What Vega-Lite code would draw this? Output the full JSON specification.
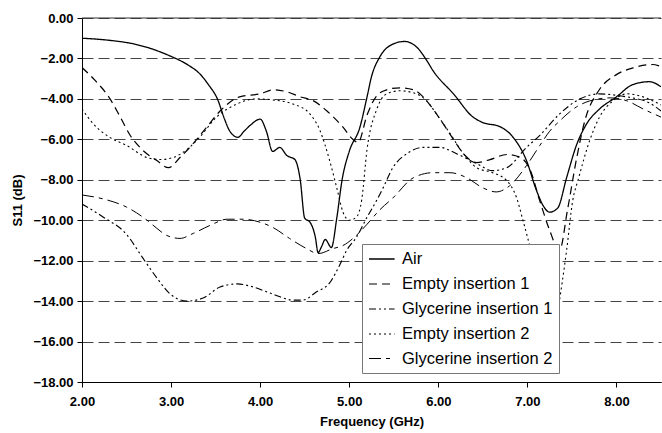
{
  "$schema": "https://vega.github.io/schema/vega-lite/v6.json",
  "autosize": {"type": "none"},
  "width": 579,
  "height": 364,
  "padding": {"left": 82, "top": 18, "right": 1, "bottom": 51},
  "background": "white",
  "config": {
    "view": {"stroke": null},
    "font": "Liberation Sans",
    "axis": {"labelFont": "Liberation Sans", "titleFont": "Liberation Sans", "labelFontSize": 13, "labelFontWeight": "bold", "titleFontSize": 13, "titleFontWeight": "bold", "labelColor": "black", "titleColor": "black", "domainColor": "black", "tickColor": "black", "tickSize": 5}
  },
  "layer": [
    {
      "data": {"values": [{"y": 0}]},
      "mark": {"type": "rule", "color": "#333", "strokeWidth": 1},
      "encoding": {"y": {"field": "y", "type": "quantitative", "scale": {"domain": [-18, 0]}}}
    },
    {
      "data": {"values": [
        {"series": "Air", "f": 2.0, "s": -1.0}, {"series": "Air", "f": 2.3, "s": -1.1}, {"series": "Air", "f": 2.6, "s": -1.3}, {"series": "Air", "f": 2.8, "s": -1.55}, {"series": "Air", "f": 3.0, "s": -1.9}, {"series": "Air", "f": 3.1, "s": -2.1}, {"series": "Air", "f": 3.2, "s": -2.35}, {"series": "Air", "f": 3.32, "s": -2.75}, {"series": "Air", "f": 3.42, "s": -3.3}, {"series": "Air", "f": 3.52, "s": -4.0}, {"series": "Air", "f": 3.6, "s": -5.0}, {"series": "Air", "f": 3.66, "s": -5.6}, {"series": "Air", "f": 3.75, "s": -5.9}, {"series": "Air", "f": 3.82, "s": -5.6}, {"series": "Air", "f": 3.89, "s": -5.3}, {"series": "Air", "f": 4.0, "s": -5.0}, {"series": "Air", "f": 4.07, "s": -5.6}, {"series": "Air", "f": 4.14, "s": -6.6}, {"series": "Air", "f": 4.22, "s": -6.4}, {"series": "Air", "f": 4.3, "s": -6.8}, {"series": "Air", "f": 4.39, "s": -7.0}, {"series": "Air", "f": 4.45, "s": -8.0}, {"series": "Air", "f": 4.5, "s": -9.9}, {"series": "Air", "f": 4.56, "s": -10.1}, {"series": "Air", "f": 4.62, "s": -10.85}, {"series": "Air", "f": 4.65, "s": -11.6}, {"series": "Air", "f": 4.69, "s": -11.3}, {"series": "Air", "f": 4.73, "s": -10.95}, {"series": "Air", "f": 4.8, "s": -11.35}, {"series": "Air", "f": 4.86, "s": -9.9}, {"series": "Air", "f": 4.92, "s": -8.0}, {"series": "Air", "f": 5.0, "s": -6.6}, {"series": "Air", "f": 5.12, "s": -5.4}, {"series": "Air", "f": 5.2, "s": -3.9}, {"series": "Air", "f": 5.25, "s": -2.9}, {"series": "Air", "f": 5.34, "s": -1.95}, {"series": "Air", "f": 5.46, "s": -1.36}, {"series": "Air", "f": 5.62, "s": -1.16}, {"series": "Air", "f": 5.76, "s": -1.45}, {"series": "Air", "f": 5.87, "s": -2.1}, {"series": "Air", "f": 5.94, "s": -2.6}, {"series": "Air", "f": 6.17, "s": -3.75}, {"series": "Air", "f": 6.39, "s": -4.9}, {"series": "Air", "f": 6.5, "s": -5.17}, {"series": "Air", "f": 6.69, "s": -5.37}, {"series": "Air", "f": 6.84, "s": -5.9}, {"series": "Air", "f": 6.99, "s": -7.05}, {"series": "Air", "f": 7.1, "s": -8.5}, {"series": "Air", "f": 7.18, "s": -9.3}, {"series": "Air", "f": 7.25, "s": -9.6}, {"series": "Air", "f": 7.34, "s": -9.4}, {"series": "Air", "f": 7.44, "s": -7.9}, {"series": "Air", "f": 7.55, "s": -6.3}, {"series": "Air", "f": 7.67, "s": -5.2}, {"series": "Air", "f": 7.81, "s": -4.5}, {"series": "Air", "f": 8.0, "s": -3.9}, {"series": "Air", "f": 8.18, "s": -3.3}, {"series": "Air", "f": 8.37, "s": -3.15}, {"series": "Air", "f": 8.5, "s": -3.4},
        {"series": "Empty insertion 1", "f": 2.0, "s": -2.45}, {"series": "Empty insertion 1", "f": 2.15, "s": -3.1}, {"series": "Empty insertion 1", "f": 2.3, "s": -3.9}, {"series": "Empty insertion 1", "f": 2.43, "s": -4.9}, {"series": "Empty insertion 1", "f": 2.54, "s": -5.8}, {"series": "Empty insertion 1", "f": 2.65, "s": -6.4}, {"series": "Empty insertion 1", "f": 2.84, "s": -7.05}, {"series": "Empty insertion 1", "f": 2.97, "s": -7.4}, {"series": "Empty insertion 1", "f": 3.1, "s": -6.9}, {"series": "Empty insertion 1", "f": 3.25, "s": -6.2}, {"series": "Empty insertion 1", "f": 3.4, "s": -5.4}, {"series": "Empty insertion 1", "f": 3.55, "s": -4.6}, {"series": "Empty insertion 1", "f": 3.77, "s": -3.9}, {"series": "Empty insertion 1", "f": 4.0, "s": -3.75}, {"series": "Empty insertion 1", "f": 4.15, "s": -3.55}, {"series": "Empty insertion 1", "f": 4.3, "s": -3.65}, {"series": "Empty insertion 1", "f": 4.45, "s": -3.9}, {"series": "Empty insertion 1", "f": 4.6, "s": -4.1}, {"series": "Empty insertion 1", "f": 4.75, "s": -4.6}, {"series": "Empty insertion 1", "f": 4.93, "s": -5.4}, {"series": "Empty insertion 1", "f": 5.04, "s": -6.0}, {"series": "Empty insertion 1", "f": 5.1, "s": -6.15}, {"series": "Empty insertion 1", "f": 5.2, "s": -4.8}, {"series": "Empty insertion 1", "f": 5.3, "s": -3.9}, {"series": "Empty insertion 1", "f": 5.42, "s": -3.55}, {"series": "Empty insertion 1", "f": 5.57, "s": -3.45}, {"series": "Empty insertion 1", "f": 5.72, "s": -3.55}, {"series": "Empty insertion 1", "f": 5.83, "s": -3.9}, {"series": "Empty insertion 1", "f": 5.94, "s": -4.5}, {"series": "Empty insertion 1", "f": 6.05, "s": -5.2}, {"series": "Empty insertion 1", "f": 6.17, "s": -6.0}, {"series": "Empty insertion 1", "f": 6.28, "s": -6.7}, {"series": "Empty insertion 1", "f": 6.43, "s": -7.15}, {"series": "Empty insertion 1", "f": 6.58, "s": -7.0}, {"series": "Empty insertion 1", "f": 6.77, "s": -6.75}, {"series": "Empty insertion 1", "f": 6.92, "s": -6.9}, {"series": "Empty insertion 1", "f": 7.03, "s": -7.5}, {"series": "Empty insertion 1", "f": 7.14, "s": -9.05}, {"series": "Empty insertion 1", "f": 7.25, "s": -10.5}, {"series": "Empty insertion 1", "f": 7.36, "s": -11.5}, {"series": "Empty insertion 1", "f": 7.45, "s": -9.5}, {"series": "Empty insertion 1", "f": 7.55, "s": -7.0}, {"series": "Empty insertion 1", "f": 7.65, "s": -5.0}, {"series": "Empty insertion 1", "f": 7.8, "s": -3.6}, {"series": "Empty insertion 1", "f": 8.0, "s": -2.8}, {"series": "Empty insertion 1", "f": 8.2, "s": -2.45}, {"series": "Empty insertion 1", "f": 8.4, "s": -2.3}, {"series": "Empty insertion 1", "f": 8.5, "s": -2.4},
        {"series": "Glycerine insertion 1", "f": 2.0, "s": -9.2}, {"series": "Glycerine insertion 1", "f": 2.24, "s": -9.85}, {"series": "Glycerine insertion 1", "f": 2.5, "s": -10.7}, {"series": "Glycerine insertion 1", "f": 2.68, "s": -11.85}, {"series": "Glycerine insertion 1", "f": 2.84, "s": -12.85}, {"series": "Glycerine insertion 1", "f": 2.99, "s": -13.65}, {"series": "Glycerine insertion 1", "f": 3.18, "s": -14.0}, {"series": "Glycerine insertion 1", "f": 3.36, "s": -13.85}, {"series": "Glycerine insertion 1", "f": 3.55, "s": -13.3}, {"series": "Glycerine insertion 1", "f": 3.74, "s": -13.15}, {"series": "Glycerine insertion 1", "f": 3.92, "s": -13.3}, {"series": "Glycerine insertion 1", "f": 4.14, "s": -13.65}, {"series": "Glycerine insertion 1", "f": 4.37, "s": -13.95}, {"series": "Glycerine insertion 1", "f": 4.48, "s": -13.95}, {"series": "Glycerine insertion 1", "f": 4.63, "s": -13.55}, {"series": "Glycerine insertion 1", "f": 4.78, "s": -13.1}, {"series": "Glycerine insertion 1", "f": 4.9, "s": -12.15}, {"series": "Glycerine insertion 1", "f": 4.97, "s": -11.5}, {"series": "Glycerine insertion 1", "f": 5.08, "s": -10.85}, {"series": "Glycerine insertion 1", "f": 5.2, "s": -9.85}, {"series": "Glycerine insertion 1", "f": 5.31, "s": -9.0}, {"series": "Glycerine insertion 1", "f": 5.38, "s": -8.4}, {"series": "Glycerine insertion 1", "f": 5.49, "s": -7.4}, {"series": "Glycerine insertion 1", "f": 5.65, "s": -6.7}, {"series": "Glycerine insertion 1", "f": 5.83, "s": -6.4}, {"series": "Glycerine insertion 1", "f": 6.02, "s": -6.4}, {"series": "Glycerine insertion 1", "f": 6.2, "s": -6.7}, {"series": "Glycerine insertion 1", "f": 6.43, "s": -7.2}, {"series": "Glycerine insertion 1", "f": 6.61, "s": -7.55}, {"series": "Glycerine insertion 1", "f": 6.77, "s": -7.4}, {"series": "Glycerine insertion 1", "f": 6.99, "s": -6.4}, {"series": "Glycerine insertion 1", "f": 7.14, "s": -5.8}, {"series": "Glycerine insertion 1", "f": 7.36, "s": -4.75}, {"series": "Glycerine insertion 1", "f": 7.59, "s": -4.0}, {"series": "Glycerine insertion 1", "f": 7.81, "s": -3.75}, {"series": "Glycerine insertion 1", "f": 8.04, "s": -3.85}, {"series": "Glycerine insertion 1", "f": 8.18, "s": -3.95}, {"series": "Glycerine insertion 1", "f": 8.37, "s": -4.2}, {"series": "Glycerine insertion 1", "f": 8.5, "s": -4.6},
        {"series": "Empty insertion 2", "f": 2.0, "s": -4.5}, {"series": "Empty insertion 2", "f": 2.12, "s": -5.2}, {"series": "Empty insertion 2", "f": 2.31, "s": -5.9}, {"series": "Empty insertion 2", "f": 2.5, "s": -6.3}, {"series": "Empty insertion 2", "f": 2.73, "s": -6.9}, {"series": "Empty insertion 2", "f": 2.88, "s": -7.0}, {"series": "Empty insertion 2", "f": 3.02, "s": -6.9}, {"series": "Empty insertion 2", "f": 3.18, "s": -6.5}, {"series": "Empty insertion 2", "f": 3.32, "s": -5.9}, {"series": "Empty insertion 2", "f": 3.51, "s": -4.9}, {"series": "Empty insertion 2", "f": 3.74, "s": -4.25}, {"series": "Empty insertion 2", "f": 3.96, "s": -4.0}, {"series": "Empty insertion 2", "f": 4.14, "s": -4.05}, {"series": "Empty insertion 2", "f": 4.37, "s": -4.25}, {"series": "Empty insertion 2", "f": 4.56, "s": -4.75}, {"series": "Empty insertion 2", "f": 4.67, "s": -5.55}, {"series": "Empty insertion 2", "f": 4.78, "s": -7.05}, {"series": "Empty insertion 2", "f": 4.86, "s": -8.4}, {"series": "Empty insertion 2", "f": 4.93, "s": -9.6}, {"series": "Empty insertion 2", "f": 5.0, "s": -10.0}, {"series": "Empty insertion 2", "f": 5.08, "s": -9.85}, {"series": "Empty insertion 2", "f": 5.14, "s": -9.0}, {"series": "Empty insertion 2", "f": 5.2, "s": -6.5}, {"series": "Empty insertion 2", "f": 5.31, "s": -4.5}, {"series": "Empty insertion 2", "f": 5.42, "s": -3.75}, {"series": "Empty insertion 2", "f": 5.57, "s": -3.6}, {"series": "Empty insertion 2", "f": 5.72, "s": -3.7}, {"series": "Empty insertion 2", "f": 5.87, "s": -4.1}, {"series": "Empty insertion 2", "f": 5.98, "s": -4.75}, {"series": "Empty insertion 2", "f": 6.13, "s": -5.7}, {"series": "Empty insertion 2", "f": 6.28, "s": -6.7}, {"series": "Empty insertion 2", "f": 6.43, "s": -7.4}, {"series": "Empty insertion 2", "f": 6.61, "s": -7.65}, {"series": "Empty insertion 2", "f": 6.77, "s": -8.05}, {"series": "Empty insertion 2", "f": 6.88, "s": -8.9}, {"series": "Empty insertion 2", "f": 6.95, "s": -10.0}, {"series": "Empty insertion 2", "f": 7.06, "s": -11.85}, {"series": "Empty insertion 2", "f": 7.14, "s": -13.3}, {"series": "Empty insertion 2", "f": 7.22, "s": -14.65}, {"series": "Empty insertion 2", "f": 7.28, "s": -15.9}, {"series": "Empty insertion 2", "f": 7.34, "s": -14.5}, {"series": "Empty insertion 2", "f": 7.44, "s": -11.5}, {"series": "Empty insertion 2", "f": 7.51, "s": -9.0}, {"series": "Empty insertion 2", "f": 7.57, "s": -8.0}, {"series": "Empty insertion 2", "f": 7.7, "s": -6.05}, {"series": "Empty insertion 2", "f": 7.81, "s": -4.9}, {"series": "Empty insertion 2", "f": 7.96, "s": -4.1}, {"series": "Empty insertion 2", "f": 8.12, "s": -3.75}, {"series": "Empty insertion 2", "f": 8.3, "s": -3.9}, {"series": "Empty insertion 2", "f": 8.5, "s": -4.3},
        {"series": "Glycerine insertion 2", "f": 2.0, "s": -8.75}, {"series": "Glycerine insertion 2", "f": 2.24, "s": -8.95}, {"series": "Glycerine insertion 2", "f": 2.5, "s": -9.35}, {"series": "Glycerine insertion 2", "f": 2.73, "s": -10.0}, {"series": "Glycerine insertion 2", "f": 2.84, "s": -10.4}, {"series": "Glycerine insertion 2", "f": 2.95, "s": -10.75}, {"series": "Glycerine insertion 2", "f": 3.1, "s": -10.9}, {"series": "Glycerine insertion 2", "f": 3.25, "s": -10.65}, {"series": "Glycerine insertion 2", "f": 3.44, "s": -10.25}, {"series": "Glycerine insertion 2", "f": 3.63, "s": -9.95}, {"series": "Glycerine insertion 2", "f": 3.81, "s": -9.95}, {"series": "Glycerine insertion 2", "f": 4.0, "s": -10.1}, {"series": "Glycerine insertion 2", "f": 4.14, "s": -10.35}, {"series": "Glycerine insertion 2", "f": 4.33, "s": -10.9}, {"series": "Glycerine insertion 2", "f": 4.52, "s": -11.4}, {"series": "Glycerine insertion 2", "f": 4.65, "s": -11.65}, {"series": "Glycerine insertion 2", "f": 4.82, "s": -11.4}, {"series": "Glycerine insertion 2", "f": 4.93, "s": -11.25}, {"series": "Glycerine insertion 2", "f": 5.08, "s": -10.75}, {"series": "Glycerine insertion 2", "f": 5.2, "s": -10.2}, {"series": "Glycerine insertion 2", "f": 5.34, "s": -9.5}, {"series": "Glycerine insertion 2", "f": 5.49, "s": -8.9}, {"series": "Glycerine insertion 2", "f": 5.72, "s": -7.9}, {"series": "Glycerine insertion 2", "f": 5.94, "s": -7.65}, {"series": "Glycerine insertion 2", "f": 6.13, "s": -7.65}, {"series": "Glycerine insertion 2", "f": 6.32, "s": -7.9}, {"series": "Glycerine insertion 2", "f": 6.5, "s": -8.4}, {"series": "Glycerine insertion 2", "f": 6.65, "s": -8.6}, {"series": "Glycerine insertion 2", "f": 6.8, "s": -8.3}, {"series": "Glycerine insertion 2", "f": 6.99, "s": -7.3}, {"series": "Glycerine insertion 2", "f": 7.14, "s": -6.3}, {"series": "Glycerine insertion 2", "f": 7.25, "s": -5.6}, {"series": "Glycerine insertion 2", "f": 7.36, "s": -5.1}, {"series": "Glycerine insertion 2", "f": 7.55, "s": -4.4}, {"series": "Glycerine insertion 2", "f": 7.7, "s": -4.1}, {"series": "Glycerine insertion 2", "f": 7.93, "s": -3.95}, {"series": "Glycerine insertion 2", "f": 8.12, "s": -4.1}, {"series": "Glycerine insertion 2", "f": 8.3, "s": -4.5}, {"series": "Glycerine insertion 2", "f": 8.5, "s": -4.9}
      ]},
      "mark": {"type": "line", "color": "black", "interpolate": "monotone", "clip": true},
      "encoding": {
        "x": {"field": "f", "type": "quantitative", "title": "Frequency (GHz)", "scale": {"domain": [2, 8.5], "nice": false, "zero": false}, "axis": {"values": [2, 3, 4, 5, 6, 7, 8], "format": ".2f", "grid": false, "labelPadding": 8, "titlePadding": 7, "labelFlush": false}},
        "y": {"field": "s", "type": "quantitative", "title": "S11 (dB)", "scale": {"domain": [-18, 0], "nice": false}, "axis": {"values": [-18, -16, -14, -12, -10, -8, -6, -4, -2, 0], "format": ".2f", "grid": true, "gridDash": [11, 5], "gridColor": "#444", "gridWidth": 1, "labelPadding": 4, "titlePadding": 8}},
        "detail": {"field": "series"},
        "strokeDash": {"field": "series", "type": "nominal", "title": null,
          "scale": {"domain": ["Air", "Empty insertion 1", "Glycerine insertion 1", "Empty insertion 2", "Glycerine insertion 2"], "range": [[1, 0], [8, 5], [7, 3, 2, 3, 2, 3], [2, 3], [12, 5, 4, 5]]},
          "legend": {"orient": "none", "legendX": 280, "legendY": 226, "fillColor": "white", "strokeColor": "#777", "padding": 6, "symbolType": "M-1,0H2.2", "symbolSize": 256, "symbolStrokeColor": "black", "symbolFillColor": "transparent", "labelFont": "Liberation Sans", "labelFontSize": 16.5, "labelColor": "black", "labelOffset": 16, "rowPadding": 7, "cornerRadius": 0}},
        "strokeWidth": {"field": "series", "type": "nominal", "title": null,
          "scale": {"domain": ["Air", "Empty insertion 1", "Glycerine insertion 1", "Empty insertion 2", "Glycerine insertion 2"], "range": [1.3, 1, 1, 1.3, 2.4]}}
      }
    }
  ]
}
